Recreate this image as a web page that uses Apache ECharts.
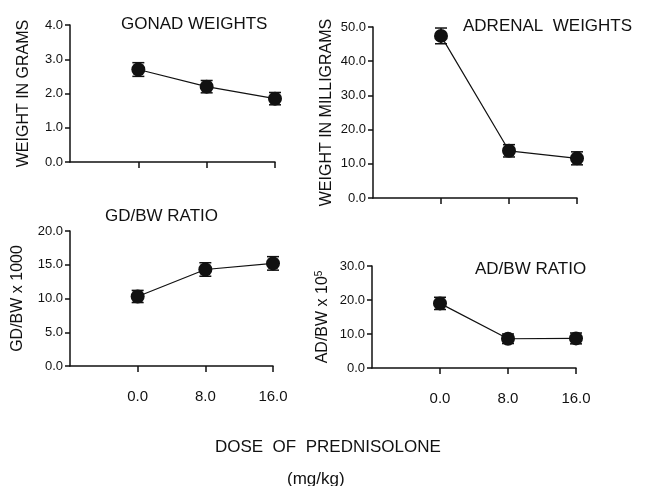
<!DOCTYPE html>
<html>
<head>
<meta charset="utf-8">
<script src="https://cdn.jsdelivr.net/npm/echarts@6/dist/echarts.min.js"></script>
<style>
  html, body { margin: 0; padding: 0; background: #fff; }
  #chart { width: 654px; height: 486px; }
</style>
</head>
<body>
<div id="chart"></div>
<script>
// dose of prednisolone (mg/kg)
const doses = [0, 8, 16];
const doseLabels = ['0.0', '8.0', '16.0'];

// means and error bar half-widths
const gonadWeight = [2.7, 2.2, 1.85];
const gonadErr = [0.2, 0.18, 0.18];
const adrenalWeight = [47.4, 13.8, 11.6];
const adrenalErr = [2.3, 1.8, 1.9];
const gdbwRatio = [10.3, 14.3, 15.2];
const gdbwErr = [0.9, 1.0, 1.0];
const adbwRatio = [19.0, 8.6, 8.7];
const adbwErr = [1.8, 1.4, 1.6];

const ink = '#111';
const font = '"Liberation Sans", Arial, sans-serif';

const chart = echarts.init(document.getElementById('chart'));

function xAxisFor(idx, showLabels) {
    return {
        type: 'value', gridIndex: idx, min: -8, max: 16, interval: 8,
        axisLine: { show: true, onZero: false, lineStyle: { color: ink, width: 1.5 } },
        axisTick: { show: true, length: 6, customValues: doses, lineStyle: { color: ink, width: 1.5 } },
        axisLabel: {
            show: showLabels, customValues: doses, margin: 23,
            color: ink, fontFamily: font, fontSize: 15,
            formatter: v => doseLabels[doses.indexOf(v)] || ''
        },
        splitLine: { show: false }
    };
}

function yAxisFor(idx, max, interval, name, gap) {
    return {
        type: 'value', gridIndex: idx, min: 0, max: max, interval: interval,
        name: name, nameLocation: 'middle', nameGap: gap, nameRotate: 90,
        nameTextStyle: {
            color: ink, fontFamily: font, fontSize: 16,
            rich: { sup: { fontSize: 10, verticalAlign: 'top', color: ink, padding: [0, 0, 8, 0] } }
        },
        axisLine: { show: true, onZero: false, lineStyle: { color: ink, width: 1.5 } },
        axisTick: { show: true, length: 5, lineStyle: { color: ink, width: 1.5 } },
        axisLabel: { color: ink, fontFamily: font, fontSize: 13, margin: 7, formatter: v => v.toFixed(1) },
        splitLine: { show: false }
    };
}

function errRender(params, api) {
    const x = api.value(0);
    const top = api.coord([x, api.value(2)]);
    const bot = api.coord([x, api.value(1)]);
    const w = 6;
    const st = { stroke: ink, lineWidth: 1.5 };
    return {
        type: 'group',
        children: [
            { type: 'line', shape: { x1: top[0], y1: top[1], x2: bot[0], y2: bot[1] }, style: st },
            { type: 'line', shape: { x1: top[0] - w, y1: top[1], x2: top[0] + w, y2: top[1] }, style: st },
            { type: 'line', shape: { x1: bot[0] - w, y1: bot[1], x2: bot[0] + w, y2: bot[1] }, style: st }
        ]
    };
}

function seriesFor(idx, vals, errs) {
    return [
        {
            type: 'custom', xAxisIndex: idx, yAxisIndex: idx, renderItem: errRender,
            data: doses.map((d, i) => [d, vals[i] - errs[i], vals[i] + errs[i]]), z: 2
        },
        {
            type: 'line', xAxisIndex: idx, yAxisIndex: idx,
            data: doses.map((d, i) => [d, vals[i]]),
            symbol: 'circle', symbolSize: 14,
            lineStyle: { color: ink, width: 1.2 },
            itemStyle: { color: ink, borderWidth: 0 }, z: 3
        }
    ];
}

const titleStyle = { color: ink, fontFamily: font, fontSize: 17, fontWeight: 'normal' };

chart.setOption({
    animation: false,
    title: [
        { text: 'GONAD WEIGHTS', left: 116, top: 11, textStyle: titleStyle },
        { text: 'ADRENAL  WEIGHTS', left: 458, top: 13, textStyle: titleStyle },
        { text: 'GD/BW RATIO', left: 100, top: 203, textStyle: titleStyle },
        { text: 'AD/BW RATIO', left: 470, top: 256, textStyle: titleStyle },
        { text: 'DOSE  OF  PREDNISOLONE', left: 210, top: 434, textStyle: titleStyle },
        { text: '(mg/kg)', left: 282, top: 466, textStyle: titleStyle }
    ],
    grid: [
        { left: 70, top: 25, width: 205, height: 137 },
        { left: 373, top: 27, width: 204, height: 171 },
        { left: 70, top: 231, width: 203, height: 135 },
        { left: 372, top: 266, width: 204, height: 102 }
    ],
    xAxis: [xAxisFor(0, false), xAxisFor(1, false), xAxisFor(2, true), xAxisFor(3, true)],
    yAxis: [
        yAxisFor(0, 4, 1, 'WEIGHT IN GRAMS', 38),
        yAxisFor(1, 50, 10, 'WEIGHT IN MILLIGRAMS', 38),
        yAxisFor(2, 20, 5, 'GD/BW x 1000', 44),
        yAxisFor(3, 30, 10, 'AD/BW x 10{sup|5}', 40)
    ],
    series: [].concat(
        seriesFor(0, gonadWeight, gonadErr),
        seriesFor(1, adrenalWeight, adrenalErr),
        seriesFor(2, gdbwRatio, gdbwErr),
        seriesFor(3, adbwRatio, adbwErr)
    )
});
</script>
</body>
</html>
